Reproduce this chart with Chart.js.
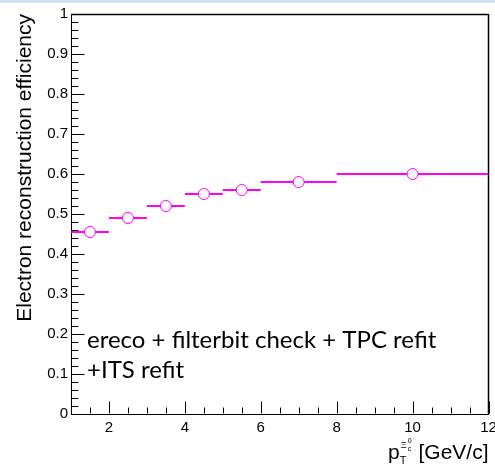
<!DOCTYPE html>
<html>
<head>
<meta charset="utf-8">
<script src="https://cdn.jsdelivr.net/npm/chart.js@4/dist/chart.umd.min.js"></script>
<style>
  html, body { margin: 0; padding: 0; background: #fff; }
  #wrap { position: relative; width: 495px; height: 466px; }
  #topbar { position: absolute; left: 0; top: 0; width: 495px; height: 3px; background: #d3e3f3; }
</style>
</head>
<body>
<div id="wrap">
  <canvas id="effChart" width="495" height="466"></canvas>
  <div id="topbar"></div>
</div>
<script>
// pT bins of the Xi_c0 and measured efficiency
const binLow = [1, 2, 3, 4, 5, 6, 8];
const binHigh = [2, 3, 4, 5, 6, 8, 12];
const efficiency = [0.455, 0.49, 0.52, 0.55, 0.56, 0.58, 0.60];

const xTicks = [2, 4, 6, 8, 10, 12];
const yTicks = [0, 0.1, 0.2, 0.3, 0.4, 0.5, 0.6, 0.7, 0.8, 0.9, 1];

const yTitle = 'Electron reconstruction efficiency';
const noteLines = ['ereco + filterbit check + TPC refit', '+ITS refit'];

(function () {
    const magenta = '#ff00ff';
    const axisFont = '"Liberation Sans", Arial, Helvetica, sans-serif';

    const markers = binLow.map((lo, i) => ({ x: (lo + binHigh[i]) / 2, y: efficiency[i] }));
    const bars = [];
    binLow.forEach((lo, i) => {
        bars.push({ x: lo, y: efficiency[i] });
        bars.push({ x: binHigh[i], y: efficiency[i] });
        bars.push({ x: binHigh[i], y: null });
    });

    const line = (ctx, x1, y1, x2, y2) => {
        ctx.beginPath();
        ctx.moveTo(x1, y1);
        ctx.lineTo(x2, y2);
        ctx.stroke();
    };

    // ROOT style frame, inward ticks, titles and the note
    const rootStyle = {
        id: 'rootStyle',
        beforeDatasetsDraw(chart) {
            const { ctx, chartArea: a, scales } = chart;
            ctx.save();
            ctx.strokeStyle = '#000';
            ctx.lineWidth = 1;
            const left = Math.round(a.left) + 0.5;
            const bottom = Math.round(a.bottom) - 0.5;

            for (let k = 0; k <= 50; k++) {
                const y = Math.round(scales.y.getPixelForValue(k / 50)) + 0.5;
                line(ctx, left, y, left + (k % 5 === 0 ? 13 : 7), y);
            }
            for (let k = 0; k <= 22; k++) {
                const v = 1 + k / 2;
                const x = Math.round(scales.x.getPixelForValue(v)) + 0.5;
                const major = v % 2 === 0;
                line(ctx, x, bottom, x, bottom - (major ? 12 : 6));
            }
            // top and right frame
            ctx.lineWidth = 1.5;
            line(ctx, a.left, Math.round(a.top) + 0.5, a.right, Math.round(a.top) + 0.5);
            line(ctx, Math.round(a.right) - 0.5, a.top, Math.round(a.right) - 0.5, a.bottom);
            ctx.restore();
        },
        afterDraw(chart) {
            const { ctx, chartArea: a } = chart;
            ctx.save();
            ctx.fillStyle = '#000';

            // y title, aligned to the top of the axis
            ctx.save();
            ctx.translate(25, a.top);
            ctx.rotate(-Math.PI / 2);
            ctx.font = '21px ' + axisFont;
            ctx.textAlign = 'right';
            ctx.textBaseline = 'middle';
            ctx.fillText(yTitle, 0, 0);
            ctx.restore();

            // x title: p_T^{Xi_c^0} [GeV/c], right aligned
            ctx.textBaseline = 'alphabetic';
            ctx.textAlign = 'left';
            const base = 459;
            ctx.font = '21px ' + axisFont;
            const tail = ' [GeV/c]';
            const tailW = ctx.measureText(tail).width;
            const pW = ctx.measureText('p').width;
            const supW = 13;
            let x = a.right - tailW - supW - pW;
            ctx.fillText('p', x, base);
            x += pW;
            ctx.font = '11px ' + axisFont;
            ctx.fillText('T', x, base + 5);
            ctx.font = '9px ' + axisFont;
            ctx.fillText('\u039E', x + 1, base - 11);
            ctx.font = '7px ' + axisFont;
            ctx.fillText('c', x + 8, base - 8);
            ctx.fillText('0', x + 8, base - 16);
            x += supW;
            ctx.font = '21px ' + axisFont;
            ctx.fillText(tail, x, base);

            // note
            ctx.font = '24px Lato, "Open Sans", sans-serif';
            ctx.fillText(noteLines[0], 87, 348);
            ctx.fillText(noteLines[1], 87, 378);
            ctx.restore();
        }
    };

    new Chart(document.getElementById('effChart').getContext('2d'), {
        type: 'line',
        data: {
            datasets: [
                {
                    label: 'points',
                    data: markers,
                    showLine: false,
                    pointRadius: 5.5,
                    pointBorderWidth: 1,
                    pointBorderColor: magenta,
                    pointBackgroundColor: '#fff'
                },
                {
                    label: 'bins',
                    data: bars,
                    borderColor: magenta,
                    borderWidth: 2,
                    pointRadius: 0,
                    spanGaps: false,
                    fill: false
                }
            ]
        },
        options: {
            responsive: false,
            animation: false,
            events: [],
            layout: { padding: { top: 14, right: 6, left: 0, bottom: 0 } },
            plugins: { legend: { display: false }, tooltip: { enabled: false } },
            scales: {
                x: {
                    type: 'linear',
                    min: 1,
                    max: 12,
                    afterBuildTicks: s => { s.ticks = xTicks.map(v => ({ value: v })); },
                    afterFit: s => { s.height = 52; s.paddingRight = 0; s.paddingLeft = 0; },
                    grid: { display: false, drawTicks: false },
                    border: { display: true, color: '#000', width: 1 },
                    ticks: { color: '#000', padding: 5, maxRotation: 0, font: { family: axisFont, size: 15 } }
                },
                y: {
                    type: 'linear',
                    min: 0,
                    max: 1,
                    afterBuildTicks: s => { s.ticks = yTicks.map(v => ({ value: v })); },
                    afterFit: s => { s.width = 71; s.paddingTop = 0; s.paddingBottom = 0; },
                    grid: { display: false, drawTicks: false },
                    border: { display: true, color: '#000', width: 1 },
                    ticks: { color: '#000', padding: 3, font: { family: axisFont, size: 15 }, callback: v => String(Math.round(v * 10) / 10) }
                }
            }
        },
        plugins: [rootStyle]
    });
})();
</script>
</body>
</html>
